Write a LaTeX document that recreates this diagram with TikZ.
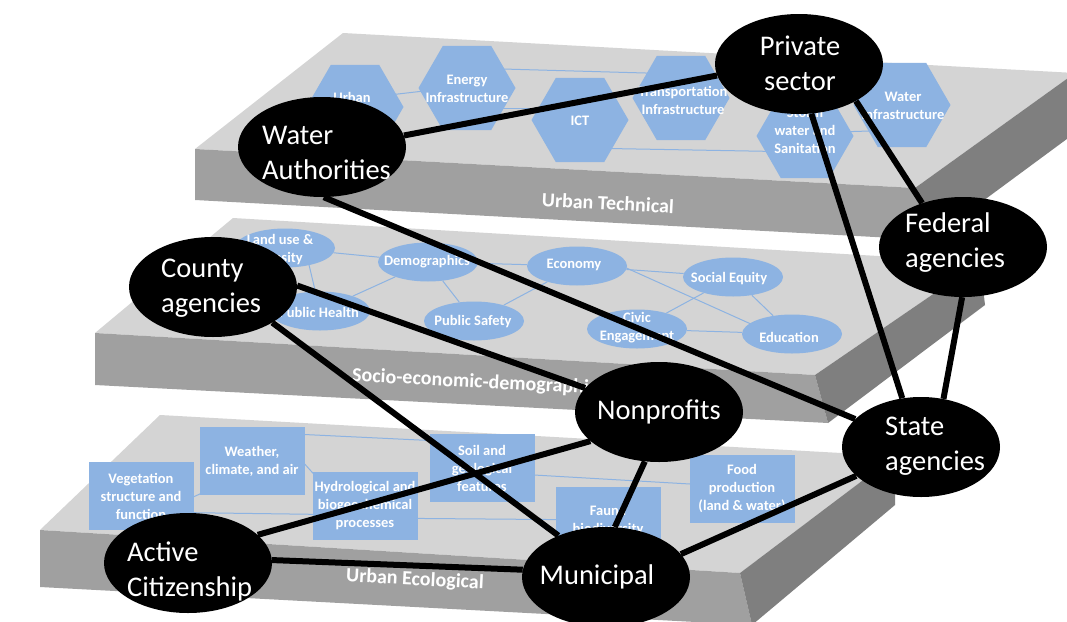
\documentclass[tikz,border=0pt]{standalone}
\usepackage{fontspec}
\setmainfont{Carlito}
\usetikzlibrary{shapes.geometric,calc}
\definecolor{topface}{HTML}{D4D4D4}
\definecolor{frontface}{HTML}{A0A0A0}
\definecolor{sideface}{HTML}{7F7F7F}
\definecolor{shapeblue}{HTML}{8DB3E2}
\definecolor{linkblue}{HTML}{8DB3E2}
\pgfdeclarelayer{slabs}
\pgfdeclarelayer{links}
\pgfdeclarelayer{shapes}
\pgfdeclarelayer{ties}
\pgfsetlayers{slabs,links,shapes,ties,main}
\begin{document}
\begin{tikzpicture}[x=1pt,y=-1pt,
  topf/.style={fill=topface},
  frontf/.style={fill=frontface},
  sidef/.style={fill=sideface},
  layerlabel/.style={text=white,font=\fontsize{20}{24}\selectfont\bfseries,rotate=-3,inner sep=0},
  hexa/.style={regular polygon,regular polygon sides=6,minimum size=97pt,inner sep=0,fill=shapeblue},
  blueell/.style={ellipse,minimum width=100pt,minimum height=39pt,inner sep=0,fill=shapeblue},
  bluerect/.style={rectangle,minimum width=105pt,minimum height=68pt,inner sep=0,fill=shapeblue,text=white,font=\fontsize{14.5}{18}\selectfont\bfseries,align=center},
  bluetext/.style={text=white,font=\fontsize{14.5}{18}\selectfont\bfseries,align=center,inner sep=0},
  bluelink/.style={draw=linkblue,line width=1pt},
  agent/.style={ellipse,fill=black,minimum width=168pt,minimum height=100pt,inner sep=0},
  agenttext/.style={text=white,font=\fontsize{28.5}{35}\selectfont,inner sep=0,align=left},
  tie/.style={draw=black,line width=6pt},
]
\useasboundingbox (0,0) rectangle (1067,621);

\begin{pgfonlayer}{slabs}
  \fill[white] (0,0) rectangle (1067,621);
  % bottom slab
  \fill[topf] (160,415) -- (895,456) -- (740,573) -- (40,530) -- cycle;
  \fill[frontf] (40,530) -- (740,573) -- (752,625) -- (40,587) -- cycle;
  \fill[sidef] (740,573) -- (895,456) -- (895,505) -- (752,625) -- cycle;
  % middle slab
  \fill[topf] (233,218) -- (980,262) -- (815,375) -- (95,333) -- cycle;
  \fill[frontf] (95,333) -- (815,375) -- (828,423) -- (95,385) -- cycle;
  \fill[sidef] (815,375) -- (980,262) -- (985,305) -- (828,423) -- cycle;
  % top slab
  \fill[topf] (343,33) -- (1075,73) -- (915,188) -- (195,149) -- cycle;
  \fill[frontf] (195,149) -- (915,188) -- (930,240) -- (195,200) -- cycle;
  \fill[sidef] (915,188) -- (1075,73) -- (1075,133) -- (930,240) -- cycle;
  % labels
  \node[layerlabel] (lab-tech) at (608,203) {Urban Technical};
  \node[layerlabel,anchor=west] (lab-socio) at (352,376) {Socio-economic-demographic};
  \node[layerlabel] (lab-eco) at (415,580) {Urban Ecological};
\end{pgfonlayer}

\begin{pgfonlayer}{shapes}
  % technical layer
  \node[hexa] (urban) at (355,107) {};
  \node[hexa] (energy) at (467,88) {};
  \node[hexa] (ict) at (580,120) {};
  \node[hexa] (transp) at (681,98) {};
  \node[hexa] (storm) at (805,136) {};
  \node[hexa] (water) at (902,105) {};
  \node[bluetext] (urban-t) at (352,97) {Urban};
  \node[bluetext] (energy-t) at (467,89) {Energy\\Infrastructure};
  \node[bluetext] (ict-t) at (580,121) {ICT};
  \node[bluetext] (transp-t) at (683,100) {Transportation\\Infrastructure};
  \node[bluetext] (storm-t) at (805,131) {Storm\\water and\\Sanitation};
  \node[bluetext] (water-t) at (903,106) {Water\\Infrastructure};
  % socio layer
  \node[blueell] (landuse) at (285,248) {};
  \node[blueell] (demo) at (428,262) {};
  \node[blueell] (health) at (320,311) {};
  \node[blueell] (safety) at (474,321) {};
  \node[blueell] (economy) at (577,266) {};
  \node[blueell] (social) at (733,277) {};
  \node[blueell] (civic) at (637,329) {};
  \node[blueell] (education) at (792,334) {};
  \node[bluetext] (landuse-t) at (280,250) {Land use \&\\Density};
  \node[bluetext] (demo-t) at (427,262) {Demographics};
  \node[bluetext] (health-t) at (319,312) {Public Health};
  \node[bluetext] (safety-t) at (473,322) {Public Safety};
  \node[bluetext] (economy-t) at (574,265) {Economy};
  \node[bluetext] (social-t) at (729,279) {Social Equity};
  \node[bluetext] (civic-t) at (637,328) {Civic\\Engagement};
  \node[bluetext] (education-t) at (789,337) {Education};
  % ecological layer
  \node[bluerect] (veg) at (141,496) {Vegetation\\structure and\\function};
  \node[bluerect] (weather) at (252,461) {Weather,\\climate, and air};
  \node[bluerect] (hydro) at (365,506) {Hydrological and\\biogeochemical\\processes};
  \node[bluerect] (soil) at (482,468) {Soil and\\geological\\features};
  \node[bluerect] (fauna) at (608,521) {Fauna\\biodiversity};
  \node[bluerect] (food) at (742,489) {Food\\production\\(land \& water)};
\end{pgfonlayer}

\begin{pgfonlayer}{links}
  \draw[bluelink] ($(urban)+(0,-8)$) -- ($(energy)+(0,-2)$);
  \draw[bluelink] ($(energy)+(0,-20)$) -- ($(transp)+(0,-24)$);
  \draw[bluelink] ($(energy)+(0,20)$) -- ($(ict)+(0,-12)$);
  \draw[bluelink] ($(ict)+(0,28)$) -- ($(storm)+(0,16)$);
  \draw[bluelink] ($(storm)+(0,-3)$) -- ($(water)+(0,25)$);
  \draw[bluelink] (landuse) -- (demo);
  \draw[bluelink] ($(landuse)+(20,0)$) -- (health);
  \draw[bluelink] (demo) -- (health);
  \draw[bluelink] (demo) -- (safety);
  \draw[bluelink] (demo) -- (economy);
  \draw[bluelink] (safety) -- (economy);
  \draw[bluelink] (economy) -- (social);
  \draw[bluelink] ($(economy)+(45,0)$) -- ($(education)+(-30,-5)$);
  \draw[bluelink] (social) -- (civic);
  \draw[bluelink] (social) -- (education);
  \draw[bluelink] (civic) -- (education);
  \draw[bluelink] ($(weather)+(0,-29)$) -- ($(soil)+(0,-25)$);
  \draw[bluelink] ($(weather)+(50,0)$) -- ($(hydro)+(-45,-25)$);
  \draw[bluelink] ($(veg)+(50,2)$) -- ($(weather)+(-50,32)$);
  \draw[bluelink] ($(veg)+(0,16)$) -- ($(hydro)+(0,9)$);
  \draw[bluelink] ($(hydro)+(0,12)$) -- ($(fauna)+(0,-1)$);
  \draw[bluelink] ($(soil)+(0,4)$) -- ($(food)+(0,-2)$);
\end{pgfonlayer}

% agents
\node[agent] (ps) at (799,64) {};
\node[agent] (wa) at (322,147) {};
\node[agent] (ca) at (213,287) {};
\node[agent] (fa) at (963,247) {};
\node[agent] (np) at (659,412) {};
\node[agent,minimum width=158pt] (sa) at (921,447) {};
\node[agent] (mu) at (606,577) {};
\node[agent] (ac) at (188,563) {};
\node[agenttext,align=center] (ps-t) at (800,63) {Private\\sector};
\node[agenttext,anchor=west] (wa-t) at (262,153) {Water\\Authorities};
\node[agenttext,anchor=west] (ca-t) at (161,288) {County\\agencies};
\node[agenttext,anchor=west] (fa-t) at (905,243) {Federal\\agencies};
\node[agenttext] (np-t) at (659,412) {Nonprofits};
\node[agenttext,anchor=west] (sa-t) at (885,446) {State\\agencies};
\node[agenttext] (mu-t) at (597,577) {Municipal};
\node[agenttext,anchor=west] (ac-t) at (127,571) {Active\\Citizenship};

\begin{pgfonlayer}{ties}
  \draw[tie] (wa.8) -- (ps.188);
  \draw[tie] (ps.-33) -- (fa.133);
  \draw[tie] (ps.-76) -- (sa.111);
  \draw[tie] (fa.-91) -- (sa.65);
  \draw[tie] (wa.-88) -- (sa.157);
  \draw[tie] (ca.1) -- (np.162);
  \draw[tie] (ca.-31) -- (mu.139);
  \draw[tie] (np.203) -- (ac.22);
  \draw[tie] (np.-106) -- (mu.80);
  \draw[tie] (mu.17) -- (sa.204);
  \draw[tie] (ac.2) -- (mu.175);
\end{pgfonlayer}
\end{tikzpicture}
\end{document}
